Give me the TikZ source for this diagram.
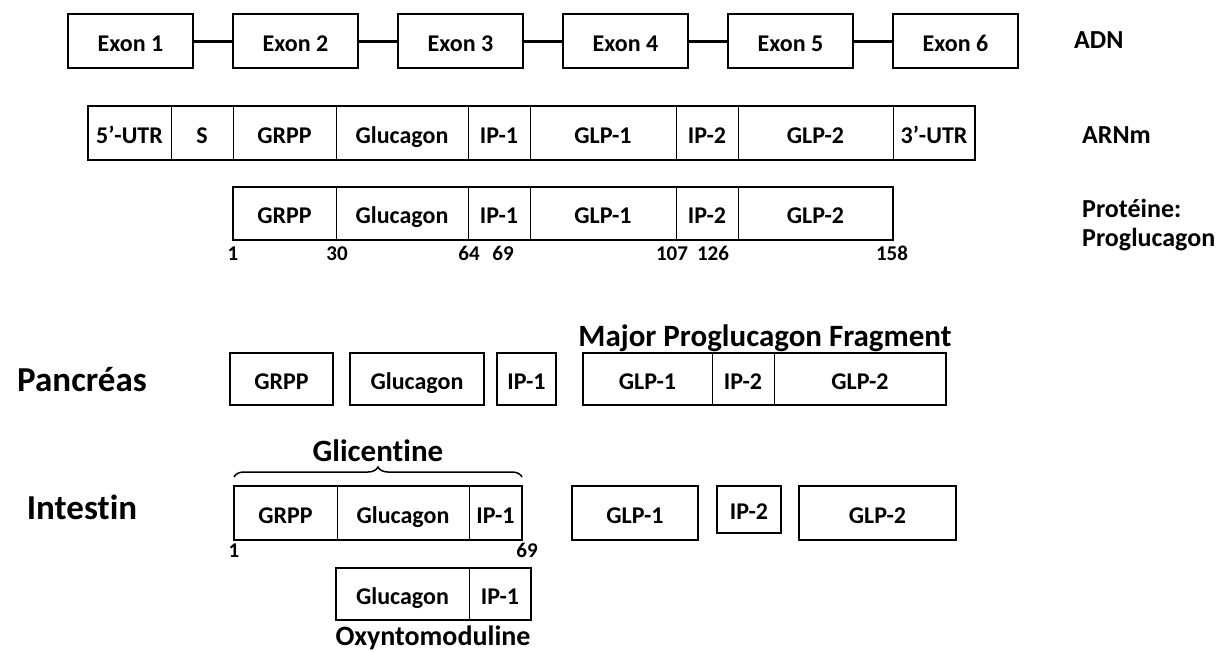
\documentclass[tikz,border=0pt]{standalone}
\usepackage{fontspec}
\setmainfont{Carlito}[Ligatures=NoCommon]
\usetikzlibrary{decorations.pathreplacing}
\newcommand{\blk}[7][]{%
  \pgfmathsetmacro\blkw{#4-#3}\pgfmathsetmacro\blkh{#6-#5}%
  \node[seg,#1,minimum width=\blkw pt,minimum height=\blkh pt] (#2) at ({(#3+#4)/2},{(#5+#6)/2}) {#7};}
\begin{document}
\begin{tikzpicture}[x=1pt,y=-1pt,
  seg/.style={draw, line width=1pt, inner sep=0pt, outer sep=0pt,
    font=\fontsize{24}{28}\selectfont\bfseries, text height=24pt, text depth=4pt},
  solo/.style={line width=2.6pt},
  outer/.style={draw, line width=2.6pt},
  link/.style={line width=3pt},
  lbl/.style={font=\fontsize{26}{30}\selectfont\bfseries, inner sep=0pt, anchor=base west},
  title/.style={font=\fontsize{31}{35}\selectfont\bfseries, inner sep=0pt, anchor=base},
  biglbl/.style={font=\fontsize{35}{40}\selectfont\bfseries, inner sep=0pt, anchor=base},
  num/.style={font=\fontsize{21}{24}\selectfont\bfseries, inner sep=0pt, anchor=base}
]
\fill[white] (0,0) rectangle (1226,651);
\useasboundingbox (0,0) rectangle (1226,651);

% ---- ADN: exons
\blk[solo]{e1}{68}{193}{14}{68}{Exon 1}
\blk[solo]{e2}{233}{358}{14}{68}{Exon 2}
\blk[solo]{e3}{398}{523}{14}{68}{Exon 3}
\blk[solo]{e4}{563}{688}{14}{68}{Exon 4}
\blk[solo]{e5}{728}{853}{14}{68}{Exon 5}
\blk[solo]{e6}{893}{1018}{14}{68}{Exon 6}
\draw[link] (e1.east) -- (e2.west);
\draw[link] (e2.east) -- (e3.west);
\draw[link] (e3.east) -- (e4.west);
\draw[link] (e4.east) -- (e5.west);
\draw[link] (e5.east) -- (e6.west);
\node[lbl] (adn) at (1074,48) {ADN};

% ---- ARNm
\blk{m5}{88}{171}{106}{160}{5’-UTR}
\blk{ms}{171}{233}{106}{160}{S}
\blk{mgrpp}{233}{336}{106}{160}{GRPP}
\blk{mglu}{336}{468}{106}{160}{Glucagon}
\blk{mip1}{468}{530}{106}{160}{IP-1}
\blk{mglp1}{530}{676}{106}{160}{GLP-1}
\blk{mip2}{676}{738}{106}{160}{IP-2}
\blk{mglp2}{738}{893}{106}{160}{GLP-2}
\blk{m3}{893}{975}{106}{160}{3’-UTR}
\draw[outer] (m5.north west) rectangle (m3.south east);
\node[lbl] (arnm) at (1082,143) {ARNm};

% ---- Proteine
\blk{pgrpp}{233}{336}{187}{240}{GRPP}
\blk{pglu}{336}{468}{187}{240}{Glucagon}
\blk{pip1}{468}{530}{187}{240}{IP-1}
\blk{pglp1}{530}{676}{187}{240}{GLP-1}
\blk{pip2}{676}{738}{187}{240}{IP-2}
\blk{pglp2}{738}{893}{187}{240}{GLP-2}
\draw[outer] (pgrpp.north west) rectangle (pglp2.south east);
\node[num] (n1) at (233,260) {1};
\node[num] (n30) at (337,260) {30};
\node[num] (n64) at (469,260) {64};
\node[num] (n69) at (503,260) {69};
\node[num] (n107) at (672,260) {107};
\node[num] (n126) at (713,260) {126};
\node[num] (n158) at (892,260) {158};
\node[lbl] (prot) at (1082,217) {Protéine:};
\node[lbl] (prog) at (1082,246) {Proglucagon};

% ---- Pancreas
\node[biglbl] (panc) at (82,391) {Pancréas};
\blk[solo]{kgrpp}{230}{333}{353}{405}{GRPP}
\blk[solo]{kglu}{350}{484}{353}{405}{Glucagon}
\blk[solo]{kip1}{497}{556}{353}{405}{IP-1}
\blk{kglp1}{583}{712}{353}{405}{GLP-1}
\blk{kip2}{712}{774}{353}{405}{IP-2}
\blk{kglp2}{774}{946}{353}{405}{GLP-2}
\draw[outer] (kglp1.north west) rectangle (kglp2.south east);
\node[title] (major) at (765,346) {Major Proglucagon Fragment};

% ---- Intestin
\node[biglbl] (intes) at (82,519) {Intestin};
\node[title] (glic) at (378,461) {Glicentine};
\coordinate (gbl) at (234,477);
\coordinate (gbr) at (522,477);
\draw[decorate, decoration={brace, amplitude=10pt}, line width=1.5pt] (gbl) -- (gbr);
\blk{igrpp}{234}{337}{486}{540}{GRPP}
\blk{iglu}{337}{469}{486}{540}{Glucagon}
\blk{iip1}{469}{522}{486}{540}{IP-1}
\draw[outer] (igrpp.north west) rectangle (iip1.south east);
\node[num] (i1) at (234,557) {1};
\node[num] (i69) at (527,557) {69};
\blk[solo]{iglp1}{572}{698}{486}{540}{GLP-1}
\blk[solo]{iip2}{717}{781}{486}{533}{IP-2}
\blk[solo]{iglp2}{799}{956}{486}{540}{GLP-2}

% ---- Oxyntomoduline
\blk{oglu}{336}{469}{568}{620}{Glucagon}
\blk{oip1}{469}{531}{568}{620}{IP-1}
\draw[outer] (oglu.north west) rectangle (oip1.south east);
\node[title, font=\fontsize{28}{32}\selectfont\bfseries] (oxy) at (433,645) {Oxyntomoduline};
\end{tikzpicture}
\end{document}
